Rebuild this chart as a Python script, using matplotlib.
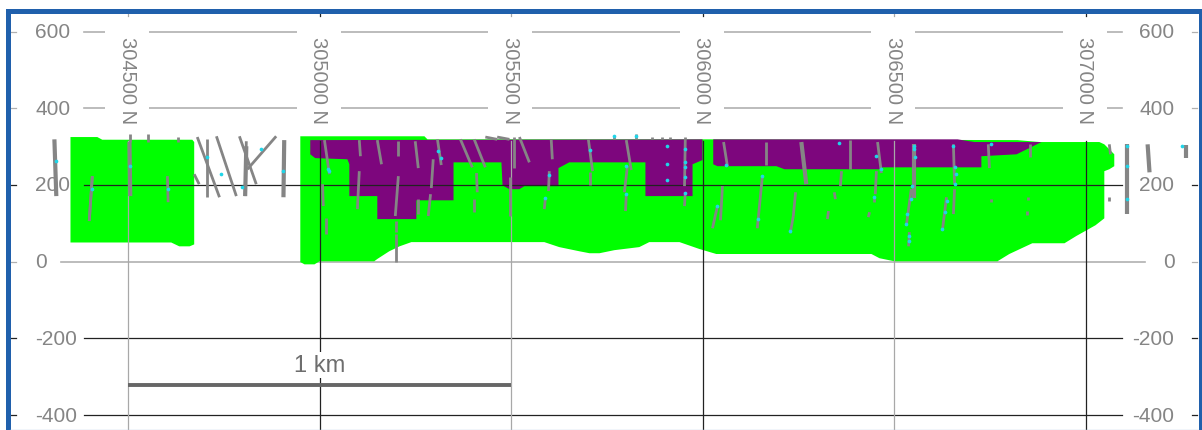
import matplotlib
matplotlib.use('Agg')
import matplotlib.pyplot as plt
from matplotlib.patches import Rectangle

# section axes
northing_ticks = [304500, 305000, 305500, 306000, 306500, 307000]
dark_northing = [305000, 306000, 307000]
elevation_ticks = [600, 400, 200, 0, -200, -400]
dark_elevation = [200, -200, -400]

# ore shell outlines (northing, elevation)
west_shell_n = [304349, 304419, 304432, 304667, 304672, 304672, 304660, 304633, 304612, 304349]
west_shell_z = [325, 325, 318, 318, 312, 45, 40, 40, 50, 50]

main_shell_n = [304949, 305273, 305281, 305991, 306035, 306821, 306879, 307035, 307048, 307074,
                307074, 307061, 307048, 307048, 307025, 306975, 306944, 306860, 306800, 306769,
                306500, 306461, 306440, 306035, 305991, 305939, 305860, 305834, 305769, 305730,
                305704, 305678, 305625, 305586, 305239, 305208, 305181, 305150, 305142, 304999,
                304986, 304960, 304949]
main_shell_z = [327, 327, 319, 319, 319, 317, 312, 312, 306, 280,
                249, 241, 236, 113, 95, 67, 48, 48, 20, 1,
                1, 9, 20, 20, 33, 51, 51, 38, 30, 22,
                22, 27, 38, 51, 51, 40, 27, 7, 1, 1,
                -7, -7, -1]

pit_a_n = [304975, 304975, 304988, 305072, 305077, 305077, 305150, 305150, 305252, 305252,
           305349, 305349, 305474, 305477, 305495, 305521, 305534, 305623, 305623, 305651,
           305850, 305850, 305973, 305973, 305999, 305999]
pit_a_z = [317, 280, 270, 267, 254, 171, 171, 111, 111, 160,
           160, 259, 259, 199, 189, 189, 197, 197, 244, 259,
           259, 171, 171, 254, 265, 319]

pit_b_n = [306027, 306027, 306038, 306192, 306213, 306461, 306466, 306727, 306727, 306819,
           306884, 306709, 306665]
pit_b_z = [319, 254, 249, 249, 241, 241, 246, 246, 275, 280,
           312, 312, 319]

# drill holes: collar to toe
hole_n1 = [304398, 304406, 304602, 304680, 304706, 304730, 304790, 304808, 304886, 304672,
           305012, 305007, 305017, 305103, 305103, 305150, 305205, 305205, 305200, 305200,
           305249, 305307, 305296, 305289, 305255, 305367, 305403, 305409, 305403, 305508,
           305521, 305497, 305604, 305599, 305589, 305701, 305706, 305800, 305803, 305800,
           305954, 305954, 306054, 306051, 306038, 306166, 306155, 306242, 306236, 306362,
           306385, 306456, 306453, 306343, 306328, 306435, 306448, 306544, 306539, 306654,
           306657, 306636, 306745, 306753, 306853, 306850, 306845, 307061, 307061, 305432,
           305463, 305769, 305826, 305867, 305893, 305914, 305954, 304505, 304552, 304630]
hole_z1 = [106, 223, 223, 325, 319, 327, 327, 314, 327, 228,
           317, 202, 113, 317, 236, 317, 314, 223, 106, 72,
           314, 319, 267, 176, 163, 319, 319, 231, 163, 325,
           325, 220, 319, 236, 168, 319, 233, 317, 249, 176,
           319, 181, 312, 197, 145, 312, 220, 181, 119, 236,
           317, 312, 236, 181, 132, 129, 168, 189, 77, 306,
           189, 168, 306, 163, 306, 168, 132, 306, 169, 325,
           325, 327, 333, 325, 325, 325, 325, 333, 333, 325]
hole_n2 = [304406, 304398, 304604, 304738, 304706, 304782, 304834, 304805, 304811, 304685,
           305025, 305009, 305017, 305106, 305098, 305161, 305205, 305197, 305200, 305200,
           305257, 305317, 305291, 305283, 305255, 305398, 305432, 305411, 305403, 305508,
           305547, 305497, 305607, 305597, 305586, 305712, 305706, 305813, 305795, 305798,
           305952, 305952, 306064, 306046, 306025, 306166, 306142, 306236, 306228, 306359,
           306385, 306466, 306450, 306346, 306325, 306432, 306448, 306531, 306537, 306657,
           306654, 306625, 306748, 306753, 306853, 306850, 306845, 307064, 307061, 305463,
           305495, 305769, 305826, 305867, 305893, 305914, 305954, 304505, 304552, 304630]
hole_z2 = [223, 106, 155, 168, 168, 171, 202, 171, 241, 202,
           228, 145, 72, 275, 137, 254, 275, 119, 77, -1,
           244, 252, 192, 119, 124, 246, 246, 181, 129, 244,
           259, 119, 267, 184, 137, 236, 199, 239, 181, 132,
           197, 145, 249, 108, 87, 252, 87, 119, 74, 197,
           241, 231, 176, 163, 111, 116, 155, 93, 40, 202,
           124, 80, 244, 155, 273, 160, 121, 280, 158, 319,
           319, 319, 319, 319, 319, 319, 319, 312, 312, 312]

# holes logged at close spacing, they read as heavier strokes
dense_n1 = [304307, 304503, 304907, 304808, 306257, 306552, 307106, 307161, 307260]
dense_z1 = [319, 312, 317, 301, 312, 306, 306, 306, 304]
dense_n2 = [304312, 304505, 304905, 304805, 306270, 306552, 307106, 307166, 307260]
dense_z2 = [171, 171, 168, 171, 202, 166, 124, 233, 270]

# assay samples
sample_n = [304312, 304505, 304604, 304406, 304706, 304743, 304798, 304847, 304905, 305020,
            305025, 305309, 305315, 305599, 305589, 305706, 305800, 305800, 305826, 305769,
            305905, 305907, 305907, 305954, 305952, 305952, 305952, 305954, 306038, 306061,
            306155, 306145, 306228, 306356, 306453, 306466, 306448, 306552, 306552, 306555,
            306547, 306542, 306534, 306531, 306539, 306539, 306654, 306659, 306662, 306657,
            306636, 306631, 306625, 306753, 307106, 307106, 307106, 307252]
sample_z = [262, 249, 189, 189, 273, 228, 194, 293, 236, 241,
            236, 288, 270, 226, 166, 291, 249, 176, 327, 327,
            301, 254, 213, 293, 259, 246, 220, 179, 145, 252,
            223, 111, 80, 309, 275, 241, 168, 301, 293, 273,
            197, 163, 124, 98, 67, 53, 301, 246, 228, 202,
            158, 129, 85, 306, 301, 249, 163, 301]

scale_bar_n = [304500, 305500]
scale_bar_z = [-321, -321]

FONT = ['Liberation Sans', 'DejaVu Sans']
TEXT_COLOR = '#858585'
GREY_LINE = '#b0b0b0'

fig = plt.figure(figsize=(12.02, 4.31), dpi=100)
ax = fig.add_axes([0, 0, 1, 1])
ax.set_xlim(304165, 307303)
ax.set_ylim(-439, 685)
ax.axis('off')

# horizontal grid, grey ones sit under the shells
for z in elevation_ticks:
    dark = z in dark_elevation
    color = '#222222' if dark else GREY_LINE
    left = 304325 if z == 0 else 304385
    right = 307153 if z == 0 else 307093
    ax.plot([left, right], [z, z], color=color, lw=0.9 if dark else 1.2, zorder=4 if dark else 1)
    ax.plot([304189, 304208], [z, z], color=color, lw=0.9, zorder=1)
    ax.plot([307276, 307291], [z, z], color=color, lw=0.9, zorder=1)
    ax.text(304257, z, str(z), family=FONT, fontsize=15, color=TEXT_COLOR,
            ha='left', va='center', zorder=2)
    ax.text(307231, z, str(z), family=FONT, fontsize=15, color=TEXT_COLOR,
            ha='right', va='center', zorder=2)

# northing labels with their white boxes that cut the grey grid
for n in northing_ticks:
    dark = n in dark_northing
    color = '#222222' if dark else '#a8a8a8'
    ax.plot([n, n], [-439, 315], color=color, lw=0.9, zorder=4)
    ax.plot([n, n], [640, 650], color=color, lw=0.9, zorder=1)
    ax.text(n - 3, 588, f'{n} N', family=FONT, fontsize=14.5, color=TEXT_COLOR,
            rotation=270, ha='center', va='top', zorder=2,
            bbox=dict(facecolor='white', edgecolor='none', pad=9))

ax.fill(west_shell_n, west_shell_z, color='#00ff00', lw=0, zorder=3)
ax.fill(main_shell_n, main_shell_z, color='#00ff00', lw=0, zorder=3)
ax.fill(pit_a_n, pit_a_z, color='#7d067d', lw=0, zorder=3.1)
ax.fill(pit_b_n, pit_b_z, color='#7d067d', lw=0, zorder=3.1)

for n1, z1, n2, z2 in zip(hole_n1, hole_z1, hole_n2, hole_z2):
    ax.plot([n1, n2], [z1, z2], color='#858585', lw=2.0, solid_capstyle='butt', zorder=5)
for n1, z1, n2, z2 in zip(dense_n1, dense_z1, dense_n2, dense_z2):
    ax.plot([n1, n2], [z1, z2], color='#858585', lw=3.0, solid_capstyle='butt', zorder=5)
ax.scatter(sample_n, sample_z, s=7, color='#20d5e8', linewidths=0, zorder=6)

# scale bar
ax.plot(scale_bar_n, scale_bar_z, color='#666666', lw=2.8, solid_capstyle='butt', zorder=7)
ax.text(305000, -270, '1 km', family=FONT, fontsize=17, color='#6e6e6e',
        ha='center', va='center', zorder=6,
        bbox=dict(facecolor='white', edgecolor='none', pad=1.5))

# blue frame of the slide
fig.add_artist(Rectangle((7.5 / 1202, -5 / 431), 1193.5 / 1202, 424.5 / 431, transform=fig.transFigure,
                         fill=False, edgecolor='#2060ac', lw=3.6))
fig.add_artist(plt.Line2D([10 / 1202, 1198 / 1202], [0.5 / 431, 0.5 / 431], transform=fig.transFigure,
                          color='#b8d0ea', lw=1))

plt.savefig('out.png', dpi=100)
plt.close()
